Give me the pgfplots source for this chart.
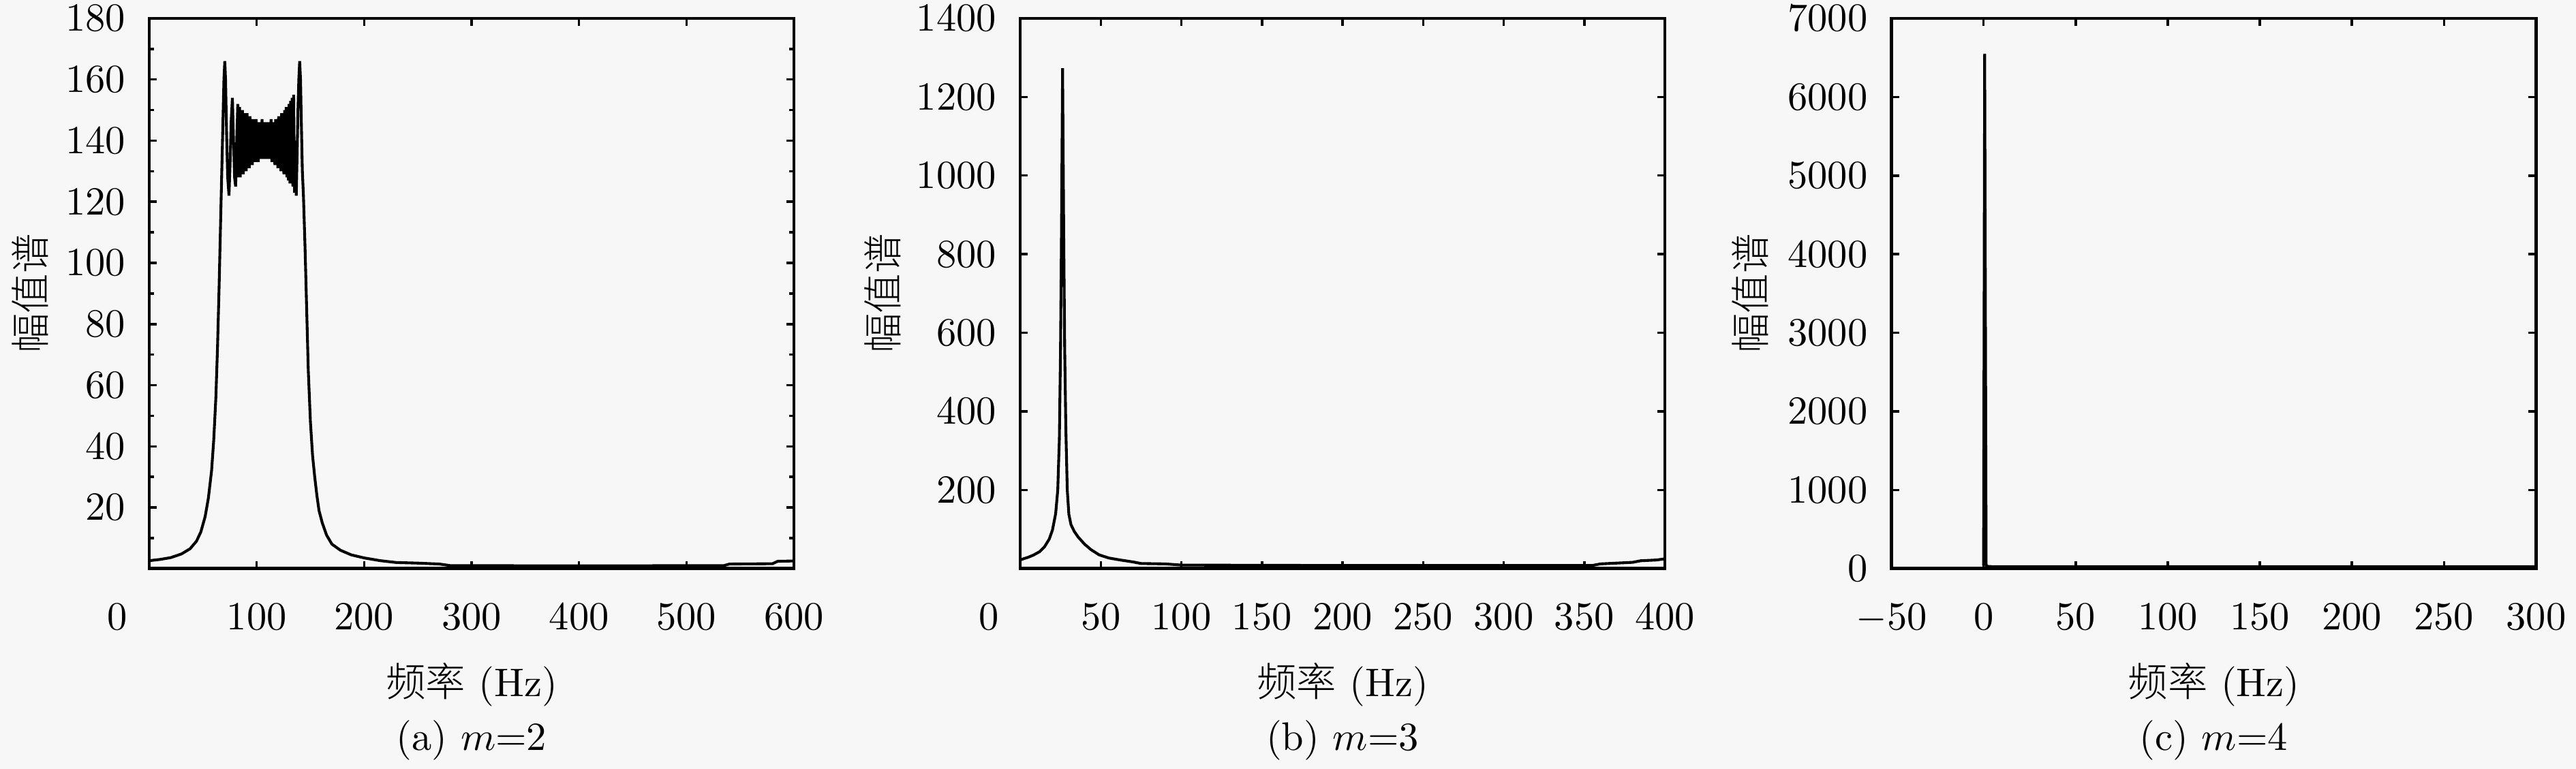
\documentclass[border=0pt]{standalone}
\usepackage{fontspec}
\usepackage{pgfplots}
\pgfplotsset{compat=1.18}
\newfontfamily\cjk{Noto Sans CJK SC Light}
\pgfplotsset{
  myax/.style={
    scale only axis, width=161.7pt, height=138.1pt,
    anchor=south west,
    axis line style={line width=0.8pt},
    tick pos=both, tick align=inside,
    major tick length=1.9pt, minor tick length=1.2pt,
    tick style={black, line width=0.6pt},
    xticklabel style={anchor=base, yshift=-15.4pt},
    yticklabel style={anchor=east, inner sep=0pt, xshift=-5.8pt},
    scaled ticks=false,
    /pgf/number format/1000 sep={},
    xlabel={{\cjk 频率} (Hz)},
    xlabel style={at={(axis description cs:0.5,0)}, anchor=base, yshift=-32pt},
    ylabel={\cjk 幅值谱},
    every axis title shift=0pt,
    title style={at={(axis description cs:0.5,0)}, anchor=base, yshift=-45.6pt},
  }
}
\begin{document}
\begin{tikzpicture}
\useasboundingbox (-37.44pt,-50.26pt) rectangle (608.7pt,142.7pt);
\fill[black!3] (-37.44pt,-50.26pt) rectangle (608.7pt,142.7pt);
% (a)
\begin{axis}[myax, at={(0pt,0pt)},
  xmin=0, xmax=600, ymin=0, ymax=180,
  xtick={100,200,...,600},
  extra x ticks={0}, extra x tick style={xticklabel style={xshift=-8.1pt}},
  ytick={20,40,...,180}, minor ytick={10,30,...,170},
  ylabel style={at={(axis description cs:-0.1849,0.5)}, anchor=center},
  title={(a) $m$=2}]
\addplot[black, line width=0.7pt, mark=none] coordinates {
(0,2.6) (10,3.0) (20,3.6) (30,4.8) (38,6.5) (44,9) (48,12) (52,17) (55,23) (58,32)
(60,42) (62,56) (63.5,72) (65,92) (66.5,115) (67.5,130) (68.5,145) (69.5,160) (70.3,166)
(71,160) (72,142) (73,128) (74.2,122) (75.2,132) (76.2,146) (77.4,154) (78.4,140)
(79.4,128) (80.4,125) (81.4,140) (82.4,152) (83.2,128)
(84.0,151) (84.7,128) (85.4,150) (86.1,129) (86.8,150) (87.5,129) (88.2,149) (88.9,130)
(89.6,148) (90.3,130) (91.0,149) (91.7,131) (92.4,147) (93.1,131) (93.8,148) (94.5,132)
(95.2,146) (95.9,132) (96.6,147) (97.3,133) (98.0,145) (98.7,133) (99.4,147) (100.1,134)
(100.8,145) (101.5,133) (102.2,146) (102.9,134) (103.6,144) (104.3,134) (105.0,147) (105.7,135)
(106.4,145) (107.1,134) (107.8,146) (108.5,135) (109.2,145) (109.9,134) (110.6,146) (111.3,134)
(112.0,145) (112.7,134) (113.4,147) (114.1,133) (114.8,145) (115.5,133) (116.2,146) (116.9,132)
(117.6,147) (118.3,132) (119.0,146) (119.7,131) (120.4,148) (121.1,131) (121.8,147) (122.5,130)
(123.2,149) (123.9,130) (124.6,148) (125.3,129) (126.0,150) (126.7,129) (127.4,151) (128.1,128)
(128.8,151) (129.5,127) (130.2,152) (130.9,126) (131.6,153) (132.3,126) (133.0,154) (133.7,125)
(134.4,155) (135.2,123) (136.0,140) (136.8,122) (137.6,135) (138.4,150) (139.2,160) (140.0,166)
(140.8,160) (141.6,145) (142.5,130) (143.5,122) (145,105) (146.5,85) (148,65) (150,48)
(152,37) (154,30) (156,24) (158,19) (161,15) (165,11) (170,8) (178,6) (188,4.5) (200,3.5)
(215,2.6) (230,2.0) (250,1.8) (270,1.5) (280,1.0) (400,0.9) (535,1.0) (540,1.5) (580,1.6)
(585,2.4) (600,2.5)
};
\end{axis}
% (b)
\begin{axis}[myax, at={(218.46pt,0pt)},
  xmin=0, xmax=400, ymin=0, ymax=1400,
  xtick={50,100,...,400},
  extra x ticks={0}, extra x tick style={xticklabel style={xshift=-7.9pt}},
  ytick={200,400,...,1400},
  ylabel style={at={(axis description cs:-0.2134,0.5)}, anchor=center},
  title={(b) $m$=3}]
\addplot[black, line width=0.7pt, mark=none] coordinates {
(0,22) (2,25) (5,29) (8,34) (12,43) (15,55) (18,75) (20,98) (22,140) (23.3,200)
(24.3,330) (25,550) (25.6,850) (26.3,1273) (27,850) (27.6,560) (28.3,360) (29.2,200)
(30.2,138) (31.5,112) (33.5,95) (36,80) (40,62) (44,48) (49,35) (55,27) (62,22)
(70,17) (75,13) (90,12) (100,9) (200,8) (355,8) (360,12) (380,16) (385,20) (395,22) (400,25)
};
\end{axis}
% (c)
\begin{axis}[myax, at={(437.0pt,0pt)},
  xmin=-50, xmax=300, ymin=0, ymax=7000,
  xtick={-50,0,...,300},
  ytick={0,1000,...,7000},
  ylabel style={at={(axis description cs:-0.2189,0.5)}, anchor=center},
  title={(c) $m$=4}]
\addplot[black, line width=0.7pt, mark=none] coordinates {
(0,40) (0.6,6549) (1.4,30) (5,25) (300,25)
};
\end{axis}
\end{tikzpicture}
\end{document}
